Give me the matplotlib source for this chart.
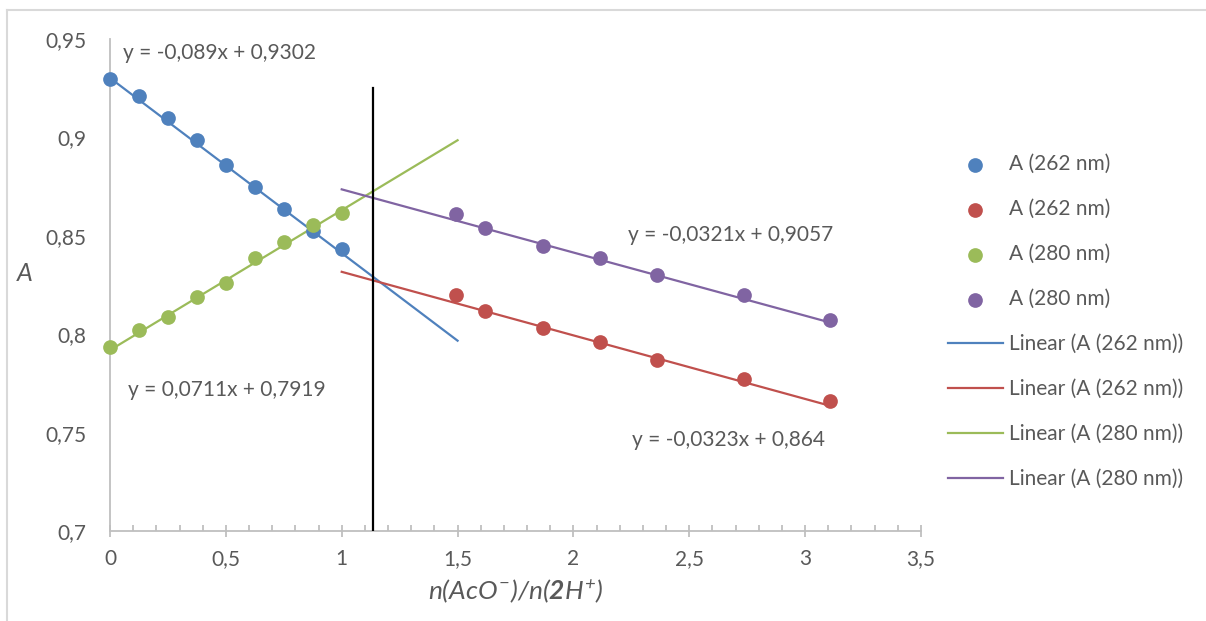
import numpy as np
import matplotlib
matplotlib.use("Agg")
import matplotlib.pyplot as plt
from matplotlib.lines import Line2D
from matplotlib.ticker import MultipleLocator, FuncFormatter

# ---------------- data ----------------
x_left = [0, 0.125, 0.25, 0.375, 0.5, 0.625, 0.75, 0.875, 1.0]
a262_left = [0.9297, 0.9210, 0.9099, 0.8987, 0.8860, 0.8748, 0.8636, 0.8524, 0.8434]
a280_left = [0.7935, 0.8021, 0.8088, 0.8189, 0.8260, 0.8387, 0.8468, 0.8556, 0.8617]

x_right = [1.494, 1.618, 1.867, 2.115, 2.362, 2.736, 3.107]
a262_right = [0.8199, 0.8119, 0.8030, 0.7959, 0.7870, 0.7771, 0.7662]
a280_right = [0.8609, 0.8538, 0.8450, 0.8389, 0.8301, 0.8199, 0.8072]

# trendline coefficients (slope, intercept) and ranges
slopes = [-0.089, -0.0323, 0.0711, -0.0321]
intercepts = [0.9302, 0.864, 0.7919, 0.9057]
trend_ranges = [(0, 1.5), (1.0, 3.107), (0, 1.5), (1.0, 3.107)]
eq_strings = ["y = -0,089x + 0,9302", "y = -0,0323x + 0,864",
              "y = 0,0711x + 0,7919", "y = -0,0321x + 0,9057"]
eq_pos = [(0.056, 0.9429), (2.253, 0.7462), (0.078, 0.7716), (2.236, 0.8504)]

series_labels = ["A (262 nm)", "A (262 nm)", "A (280 nm)", "A (280 nm)"]
colors = ["#4F81BD", "#C0504D", "#9BBB59", "#8064A2"]

vline_x = 1.135
vline_top = 0.925

x_ticks = [0, 0.5, 1, 1.5, 2, 2.5, 3, 3.5]
y_ticks = [0.7, 0.75, 0.8, 0.85, 0.9, 0.95]

# ---------------- style ----------------
FONT = "Lato"
plt.rcParams["font.family"] = [FONT, "DejaVu Sans"]
plt.rcParams["mathtext.fontset"] = "custom"
plt.rcParams["mathtext.rm"] = "Lato:italic"
plt.rcParams["mathtext.it"] = "Lato:italic"
plt.rcParams["mathtext.bf"] = "Lato:bold:italic"
TXT = "#595959"
AX = "#BFBFBF"
FS = 15

fig = plt.figure(figsize=(12.06, 6.21), dpi=100)
ax = fig.add_axes([110/1206, 1-531/621, (921-110)/1206, (531-39)/621])

xs = [x_left, x_right, x_left, x_right]
ys = [a262_left, a262_right, a280_left, a280_right]

scat_handles = []
for xx, yy, c, lab in zip(xs, ys, colors, series_labels):
    h = ax.scatter(xx, yy, s=112, color=c, zorder=3, label=lab, linewidths=0,
                   clip_on=False)
    scat_handles.append(h)

line_handles = []
for m, b, (x0, x1), c, lab in zip(slopes, intercepts, trend_ranges, colors, series_labels):
    xl = np.array([x0, x1])
    h, = ax.plot(xl, m*xl + b, color=c, lw=1.6, zorder=2, label=f"Linear ({lab})")
    line_handles.append(h)

for s, (ex, ey) in zip(eq_strings, eq_pos):
    ax.text(ex, ey, s, fontsize=FS, color=TXT, ha="left", va="center")

ax.plot([vline_x, vline_x], [0.7, vline_top], color="black", lw=1.6, zorder=4)

ax.set_xlim(0, 3.5)
ax.set_ylim(0.7, 0.95)
ax.set_xticks(x_ticks)
ax.set_yticks(y_ticks)
ax.xaxis.set_minor_locator(MultipleLocator(0.1))
fmt = FuncFormatter(lambda v, p: (f"{v:g}").replace(".", ","))
ax.xaxis.set_major_formatter(fmt)
ax.yaxis.set_major_formatter(fmt)

for sp in ["top", "right"]:
    ax.spines[sp].set_visible(False)
for sp in ["left", "bottom"]:
    ax.spines[sp].set_color(AX)
    ax.spines[sp].set_linewidth(1.3)
    ax.spines[sp].set_zorder(1)

ax.tick_params(axis="y", length=0, pad=17, labelsize=FS, labelcolor=TXT)
ax.tick_params(axis="x", which="major", direction="inout", length=8, width=1.3,
               color=AX, pad=9, labelsize=FS, labelcolor=TXT)
ax.tick_params(axis="x", which="minor", direction="in", length=4, width=1.3, color=AX)

ax.set_xlabel(r"$n(AcO^{-})/n(\mathbf{2}H^{+})$", fontsize=19, color=TXT, labelpad=6)
ax.set_ylabel("A", fontsize=18, color=TXT, style="italic", rotation=0, labelpad=0)
ax.yaxis.set_label_coords(-85/811, 0.5)

handles = scat_handles + line_handles
leg = fig.legend(handles=handles, loc="upper left", bbox_to_anchor=(940/1206, 1-146/621),
                 frameon=False, fontsize=FS, labelcolor=TXT, labelspacing=1.2,
                 handlelength=2.6, handletextpad=0.3, borderaxespad=0)

# outer chart border
fig.add_artist(Line2D([7/1206, 7/1206], [0, 1-10/621], color="#D9D9D9", lw=1.5,
                      transform=fig.transFigure))
fig.add_artist(Line2D([7/1206, 1], [1-10/621, 1-10/621], color="#D9D9D9", lw=1.5,
                      transform=fig.transFigure))

fig.savefig("out.png", dpi=100)
